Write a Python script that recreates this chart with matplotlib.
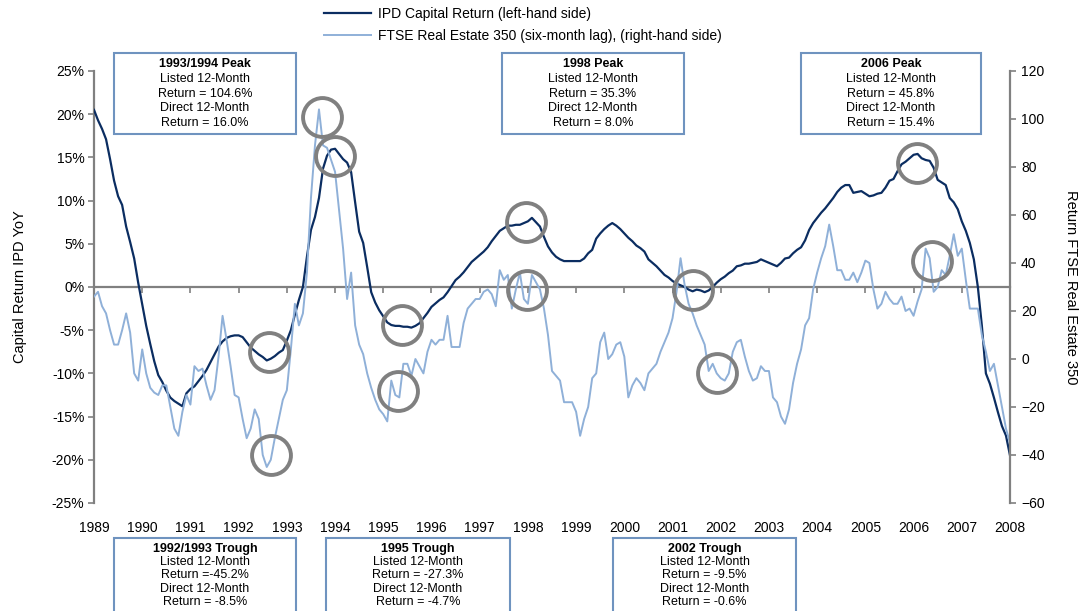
import numpy as np
import matplotlib.pyplot as plt
from matplotlib.patches import Rectangle
from matplotlib.lines import Line2D

plt.rcParams['font.family'] = ['Liberation Sans', 'DejaVu Sans']

# monthly series, Jan 1989 .. Jan 2008
start_year = 1989
ipd_capital = [
    20.5, 19.3, 18.3, 17.1, 14.8, 12.3, 10.5, 9.5, 7.0, 5.2, 3.3, 0.5,
    -2.0, -4.5, -6.6, -8.6, -10.2, -11.0, -12.0, -12.8, -13.2, -13.5, -13.8, -12.3,
    -11.8, -11.5, -10.9, -10.3, -9.6, -8.7, -7.8, -6.9, -6.3, -5.9, -5.7, -5.6,
    -5.6, -5.8, -6.4, -7.0, -7.4, -7.8, -8.1, -8.5, -8.3, -8.0, -7.6, -7.3,
    -6.2, -5.0, -3.2, -1.5, 0.0, 3.5, 6.6, 8.1, 10.3, 13.7, 15.2, 15.9,
    16.0, 15.4, 14.8, 14.4, 13.3, 9.8, 6.4, 5.1, 2.3, -0.6, -1.8, -2.7,
    -3.4, -4.1, -4.4, -4.5, -4.5, -4.6, -4.6, -4.7, -4.5, -4.2, -3.6, -3.0,
    -2.3, -1.9, -1.5, -1.2, -0.6, 0.1, 0.8, 1.2, 1.7, 2.3, 2.9, 3.3,
    3.7, 4.1, 4.6, 5.3, 5.9, 6.5, 6.8, 7.1, 7.1, 7.2, 7.2, 7.4,
    7.6, 8.0, 7.5, 7.0, 5.8, 4.7, 4.0, 3.5, 3.2, 3.0, 3.0, 3.0,
    3.0, 3.0, 3.3, 3.9, 4.3, 5.6, 6.2, 6.7, 7.1, 7.4, 7.1, 6.7,
    6.2, 5.7, 5.3, 4.8, 4.5, 4.1, 3.2, 2.8, 2.4, 1.9, 1.4, 1.1,
    0.7, 0.4, 0.2, 0.0, -0.3, -0.5, -0.3, -0.4, -0.6, -0.4, 0.0, 0.5,
    0.9, 1.2, 1.6, 1.9, 2.4, 2.5, 2.7, 2.7, 2.8, 2.9, 3.2, 3.0,
    2.8, 2.6, 2.4, 2.8, 3.3, 3.4, 3.9, 4.3, 4.6, 5.4, 6.6, 7.4,
    8.0, 8.6, 9.1, 9.7, 10.3, 11.0, 11.5, 11.8, 11.8, 10.9, 11.0, 11.1,
    10.8, 10.5, 10.6, 10.8, 10.9, 11.5, 12.3, 12.5, 13.4, 14.2, 14.5, 14.9,
    15.3, 15.4, 14.9, 14.7, 14.6, 13.8, 12.4, 12.1, 11.8, 10.3, 9.8, 9.0,
    7.6, 6.5, 5.1, 3.2, 0.0, -4.5, -10.0, -11.2, -12.8, -14.5, -16.1, -17.2, -19.5,
]
ftse_re350 = [
    26, 28, 22, 19, 12, 6, 6, 12, 19, 11, -6, -9,
    4, -6, -12, -14, -15, -11, -11, -20, -29, -32, -22, -15,
    -19, -3, -5, -4, -11, -17, -13, 1, 18, 8, -3, -15,
    -16, -25, -33, -29, -21, -25, -40, -45, -42, -33, -25, -17,
    -13, 4, 23, 14, 19, 36, 67, 89, 104, 89, 88, 83,
    78, 62, 46, 25, 36, 14, 6, 2, -6, -12, -17, -21,
    -23, -26, -9, -15, -16, -2, -2, -7, 0, -3, -6, 3,
    8, 6, 8, 8, 18, 5, 5, 5, 15, 21, 23, 25,
    25, 28, 29, 27, 22, 37, 33, 35, 21, 29, 36, 25,
    23, 35, 32, 29, 21, 10, -5, -7, -9, -18, -18, -18,
    -22, -32, -25, -20, -8, -6, 7, 11, 0, 2, 6, 7,
    1, -16, -11, -8, -10, -13, -6, -4, -2, 3, 7, 11,
    17, 28, 42, 31, 23, 19, 14, 10, 6, -5, -2, -6,
    -8, -9, -6, 3, 7, 8, 1, -5, -9, -8, -3, -5,
    -5, -16, -18, -24, -27, -21, -10, -2, 4, 14, 17, 29,
    36, 42, 47, 56, 47, 37, 37, 33, 33, 36, 32, 36,
    41, 40, 29, 21, 23, 28, 25, 23, 23, 26, 20, 21,
    18, 24, 29, 46, 42, 28, 30, 37, 35, 43, 52, 43,
    46, 33, 21, 21, 21, 10, 3, -5, -2, -11, -20, -29, -35,
]

years = list(range(1989, 2009))
left_ticks = [-25, -20, -15, -10, -5, 0, 5, 10, 15, 20, 25]
right_ticks = [-60, -40, -20, 0, 20, 40, 60, 80, 100, 120]

peak_notes = [
    ("1993/1994 Peak", "Listed 12-Month", "Return = 104.6%", "Direct 12-Month", "Return = 16.0%"),
    ("1998 Peak", "Listed 12-Month", "Return = 35.3%", "Direct 12-Month", "Return = 8.0%"),
    ("2006 Peak", "Listed 12-Month", "Return = 45.8%", "Direct 12-Month", "Return = 15.4%"),
]
trough_notes = [
    ("1992/1993 Trough", "Listed 12-Month", "Return =-45.2%", "Direct 12-Month", "Return = -8.5%"),
    ("1995 Trough", "Listed 12-Month", "Return = -27.3%", "Direct 12-Month", "Return = -4.7%"),
    ("2002 Trough", "Listed 12-Month", "Return = -9.5%", "Direct 12-Month", "Return = -0.6%"),
]
# highlighted turning points (year, left-axis %)
circled = [(1993.73, 19.7), (1993.99, 15.2), (1992.62, -7.5), (1992.68, -19.4),
           (1995.38, -4.4), (1995.31, -12.0), (1997.96, 7.5), (1997.98, -0.3),
           (2001.43, -0.3), (2001.92, -9.9), (2006.08, 14.4), (2006.39, 3.0)]

DARK = '#0B2D61'
LIGHT = '#8FB0D8'
GREY = '#808080'
BOXC = '#6F93BF'

W, H = 1083, 611
fig = plt.figure(figsize=(W / 100, H / 100), dpi=100)
ax = fig.add_axes([94 / W, 1 - 503 / H, 916 / W, 432 / H])
ax_r = ax.twinx()

t_ipd = start_year + np.arange(len(ipd_capital)) / 12
t_ftse = start_year + np.arange(len(ftse_re350)) / 12
ax.plot(t_ipd, ipd_capital, color=DARK, lw=1.6, zorder=3)
ax_r.plot(t_ftse, ftse_re350, color=LIGHT, lw=1.4)

ax.set_xlim(1989, 2008)
ax.set_ylim(-25, 25)
ax_r.set_ylim(-60, 120)

ax.set_yticks(left_ticks)
ax.set_yticklabels([f"{v}%" for v in left_ticks])
ax_r.set_yticks(right_ticks)

for a in (ax, ax_r):
    a.spines['top'].set_visible(False)
    a.patch.set_visible(False)
ax_r.spines['left'].set_visible(False)
ax_r.spines['bottom'].set_visible(False)
ax.spines['right'].set_visible(False)
ax.spines['left'].set_color(GREY)
ax.spines['left'].set_linewidth(1.6)
ax_r.spines['right'].set_color(GREY)
ax_r.spines['right'].set_linewidth(1.6)

# zero line with year ticks
ax.spines['bottom'].set_position(('data', 0))
ax.spines['bottom'].set_color(GREY)
ax.spines['bottom'].set_linewidth(1.6)
ax.set_xticks(years)
ax.tick_params(axis='x', direction='out', length=4, width=1.2, color=GREY, labelbottom=False)
ax.tick_params(axis='y', direction='out', length=4, width=1.2, color=GREY, labelsize=10, pad=3)
ax_r.tick_params(axis='y', direction='out', length=4, width=1.2, color=GREY, labelsize=10, pad=4)

# year labels along the bottom
xlab = ax.secondary_xaxis('bottom')
xlab.set_xticks(years)
xlab.spines['bottom'].set_visible(False)
xlab.tick_params(axis='x', length=0, pad=13, labelsize=10)

ax.set_ylabel("Capital Return IPD YoY", fontsize=10.5)
ax.yaxis.set_label_coords((27 - 94) / 916, 0.5)
ax_r.set_ylabel("Return FTSE Real Estate 350", fontsize=10.5, rotation=270, va='center')
ax_r.yaxis.set_label_coords((1071 - 94) / 916, 0.5)

# circles around turning points
cx, cy = zip(*circled)
ax_r.plot(cx, cy, 'o', ms=28, mfc='none', mec=GREY, mew=2.8,
          transform=ax.transData, clip_on=False, zorder=5)

# legend
handles = [Line2D([], [], color=DARK, lw=1.6), Line2D([], [], color=LIGHT, lw=1.4)]
fig.legend(handles, ["IPD Capital Return (left-hand side)",
                     "FTSE Real Estate 350 (six-month lag), (right-hand side)"],
           loc='upper left', bbox_to_anchor=(324 / W, 1 - 7 / H), frameon=False,
           fontsize=10, handlelength=3.4, handletextpad=0.5, labelspacing=0.55,
           borderpad=0, borderaxespad=0)


def note_box(x0, y0, w, lines, step):
    fig.add_artist(Rectangle((x0 / W, 1 - (y0 + 81) / H), w / W, 81 / H,
                             transform=fig.transFigure, fill=True, fc='white',
                             ec=BOXC, lw=1.5, zorder=6))
    for i, s in enumerate(lines):
        fig.text((x0 + w / 2) / W, 1 - (y0 + 11 + step * i) / H, s,
                 ha='center', va='center', fontsize=9,
                 fontweight='bold' if i == 0 else 'normal', zorder=7)


for (x0, w), lines in zip([(114, 182), (502, 182), (801, 180)], peak_notes):
    note_box(x0, 53, w, lines, 14.8)
for (x0, w), lines in zip([(114, 182), (326, 184), (613, 183)], trough_notes):
    note_box(x0, 538, w, lines, 13.2)

fig.savefig('out.png', dpi=100)
